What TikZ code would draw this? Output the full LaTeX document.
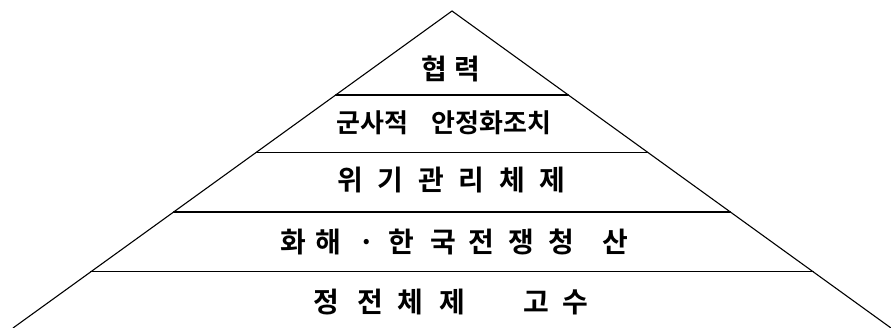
\documentclass[tikz,border=0pt]{standalone}
\usepackage{fontspec}
\newfontfamily\kr{Noto Sans CJK KR Bold}
\usetikzlibrary{calc}
\newcommand\hc[2][25pt]{\makebox[#1]{#2}}
\tikzset{
  edge/.style={draw=black, line width=1.1pt, line cap=round},
  lbl/.style={inner sep=0pt, anchor=west, font=\kr\fontsize{28}{28}\selectfont},
}
\begin{document}
\begin{tikzpicture}[x=1pt,y=-1pt]
\useasboundingbox (0,0) rectangle (891,328);
\coordinate (apex) at (452,11);
\coordinate (bl) at (13,328);
\coordinate (br) at (891,328);
\draw[edge] (bl) -- (apex) -- (br);
\foreach \t/\n in {0.265/1,0.445/2,0.634/3,0.823/4}{
  \coordinate (l\n) at ($(apex)!\t!(bl)$);
  \coordinate (r\n) at ($(apex)!\t!(br)$);
  \draw[edge] (l\n) -- (r\n);
}
\node[lbl] (t1) at (422,69) {\hc{협}\hspace{8pt}\hc{력}};
\node[lbl, font=\kr\fontsize{26}{26}\selectfont] (t2) at (336.5,123)
  {\hc[23.8pt]{군}\hc[23.8pt]{사}\hc[23.8pt]{적}\hc[23.8pt]{ }\hc[23.8pt]{안}\hc[23.8pt]{정}\hc[23.8pt]{화}\hc[23.8pt]{조}\hc[23.8pt]{치}};
\node[lbl] (t3) at (337.5,180)
  {\hc{위}\hspace{15.5pt}\hc{기}\hspace{15.5pt}\hc{관}\hspace{15.5pt}\hc{리}\hspace{15.5pt}\hc{체}\hspace{15.5pt}\hc{제}};
\node[lbl] (t4) at (281,242)
  {\hc{화}\hspace{10pt}\hc{해}\hspace{13pt}\hc{·}\hspace{10pt}\hc{한}\hspace{17pt}\hc{국}\hspace{13pt}\hc{전}\hspace{15pt}\hc{쟁}\hspace{15pt}\hc{청}\hspace{28.5pt}\hc{산}};
\node[lbl] (t5) at (314,302)
  {\hc{정}\hspace{18.5pt}\hc{전}\hspace{15pt}\hc{체}\hspace{17.5pt}\hc{제}\hspace{59pt}\hc{고}\hspace{13.5pt}\hc{수}};
\end{tikzpicture}
\end{document}
